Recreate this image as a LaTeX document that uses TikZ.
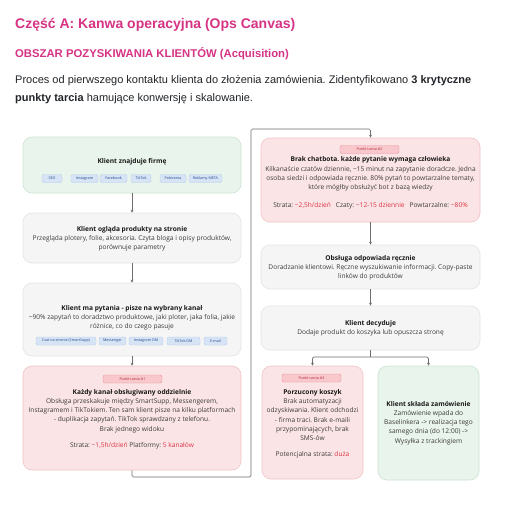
\documentclass[tikz,border=0pt]{standalone}
\usepackage{fontspec}
\setmainfont{Liberation Sans}
\newfontfamily\bx{Open Sans}
\usetikzlibrary{arrows.meta}
\frenchspacing
\definecolor{hdpink}{RGB}{214,51,132}
\definecolor{paratext}{RGB}{33,37,41}
\definecolor{gfill}{RGB}{233,244,236}
\definecolor{gline}{RGB}{203,228,210}
\definecolor{grfill}{RGB}{245,245,245}
\definecolor{grline}{RGB}{228,228,228}
\definecolor{rfill}{RGB}{251,228,229}
\definecolor{rline}{RGB}{242,196,199}
\definecolor{cfill}{RGB}{214,228,245}
\definecolor{cline}{RGB}{184,206,234}
\definecolor{ctext}{RGB}{40,75,140}
\definecolor{rcfill}{RGB}{248,200,205}
\definecolor{rcline}{RGB}{232,150,160}
\definecolor{rctext}{RGB}{176,42,55}
\definecolor{hot}{RGB}{220,53,69}
\definecolor{bodytext}{RGB}{60,60,60}
\definecolor{titletext}{RGB}{25,25,25}
\definecolor{connc}{RGB}{110,110,110}
\tikzset{
  box/.style={draw, rounded corners=9pt, inner sep=0pt, line width=0.6pt},
  greenbox/.style={box, fill=gfill, draw=gline},
  greybox/.style={box, fill=grfill, draw=grline},
  redbox/.style={box, fill=rfill, draw=rline},
  chip/.style={draw=cline, fill=cfill, rounded corners=2pt, inner sep=0pt, minimum height=8pt, line width=0.4pt, text=ctext, font=\bx\fontsize{3.7}{4}\selectfont},
  rchip/.style={draw=rcline, fill=rcfill, rounded corners=2pt, inner sep=0pt, minimum height=8pt, line width=0.4pt, text=rctext, font=\bx\fontsize{3.7}{4}\selectfont},
  txt/.style={font=\bx\fontsize{6.6}{9.2}\selectfont, align=center, inner sep=0pt, text=bodytext},
  line/.style={draw=connc, line width=0.7pt},
  conn/.style={line, -{Stealth[length=3pt,width=3pt]}},
}
\newcommand{\ttl}[1]{\textcolor{titletext}{\bfseries #1}}
\begin{document}
\begin{tikzpicture}[x=1pt,y=-1pt]
\useasboundingbox[fill=white] (0,0) rectangle (507,511);

% headings
\node[anchor=base west, inner sep=0pt, text=hdpink, font=\fontsize{14}{16}\selectfont\bfseries] (h1) at (15,29) {Część A: Kanwa operacyjna (Ops Canvas)};
\node[anchor=base west, inner sep=0pt, text=hdpink, font=\fontsize{11.3}{13}\selectfont\bfseries] (h2) at (15,57) {OBSZAR POZYSKIWANIA KLIENTÓW (Acquisition)};
\node[anchor=base west, inner sep=0pt, text=paratext, font=\fontsize{11}{13}\selectfont] (p1) at (15,83) {Proces od pierwszego kontaktu klienta do złożenia zamówienia. Zidentyfikowano \textbf{3 krytyczne}};
\node[anchor=base west, inner sep=0pt, text=paratext, font=\fontsize{11}{13}\selectfont] (p2) at (15,101) {\textbf{punkty tarcia} hamujące konwersję i skalowanie.};

% left column boxes
\node[greenbox, minimum width=218pt, minimum height=56pt] (L1) at (132,165) {};
\node[greybox, minimum width=218pt, minimum height=50pt] (L2) at (132,238) {};
\node[greybox, minimum width=218pt, minimum height=73pt] (L3) at (132,319.5) {};
\node[redbox, minimum width=218pt, minimum height=104pt] (L4) at (132,418) {};

% right column boxes
\node[redbox, minimum width=219pt, minimum height=84pt] (R1) at (370.5,180) {};
\node[greybox, minimum width=219pt, minimum height=44pt] (R2) at (370.5,267) {};
\node[greybox, minimum width=219pt, minimum height=44pt] (R3) at (370.5,328) {};
\node[redbox, minimum width=101pt, minimum height=113pt] (R4) at (312.5,422.5) {};
\node[greenbox, minimum width=101pt, minimum height=114pt] (R5) at (428.5,423) {};

% L1 content
\node[txt] (L1t) at (132,162) {\ttl{Klient znajduje firmę}};
\node[chip, minimum width=20pt] (c1) at (52,178.5) {SEO};
\node[chip, minimum width=27pt] (c2) at (84.5,178.5) {Instagram};
\node[chip, minimum width=27pt] (c3) at (113.5,178.5) {Facebook};
\node[chip, minimum width=20pt] (c4) at (141,178.5) {TikTok};
\node[chip, minimum width=26pt] (c5) at (173,178.5) {Polecenia};
\node[chip, minimum width=33pt] (c6) at (205.5,178.5) {Reklamy META};

% L2 content
\node[txt] (L2t) at (132,238.5) {\ttl{Klient ogląda produkty na stronie}\\Przegląda plotery, folie, akcesoria. Czyta bloga i opisy produktów,\\porównuje parametry};

% L3 content
\node[txt] (L3t) at (132,318) {\ttl{Klient ma pytania - pisze na wybrany kanał}\\\textasciitilde90\% zapytań to doradztwo produktowe, jaki ploter, jaka folia, jakie\\różnice, co do czego pasuje};
\node[chip, minimum width=60pt] (d1) at (66,341) {Czat na stronie (SmartSupp)};
\node[chip, minimum width=27pt] (d2) at (112.5,341) {Messenger};
\node[chip, minimum width=34pt] (d3) at (146,341) {Instagram DM};
\node[chip, minimum width=33pt] (d4) at (183.5,341) {TikTok DM};
\node[chip, minimum width=23pt] (d5) at (215.5,341) {E-mail};

% L4 content
\node[rchip, minimum width=59pt] (k1chip) at (132.5,379) {Punkt tarcia \#1};
\node[txt] (L4t) at (132,411) {\ttl{Każdy kanał obsługiwany oddzielnie}\\Obsługa przeskakuje między SmartSupp, Messengerem,\\Instagramem i TikTokiem. Ten sam klient pisze na kilku platformach\\- duplikacja zapytań. TikTok sprawdzany z telefonu.\\Brak jednego widoku};
\node[txt] (L4s) at (132,446) {Strata: \textcolor{hot}{\textasciitilde1,5h/dzień} Platformy: \textcolor{hot}{5 kanałów}};

% R1 content
\node[rchip, minimum width=59pt] (k2chip) at (369.5,149.5) {Punkt tarcia \#2};
\node[txt] (R1t) at (370.5,174) {\ttl{Brak chatbota. każde pytanie wymaga człowieka}\\Kilkanaście czatów dziennie, \textasciitilde15 minut na zapytanie doradcze. Jedna\\osoba siedzi i odpowiada ręcznie. 80\% pytań to powtarzalne tematy,\\które mógłby obsłużyć bot z bazą wiedzy};
\node[txt] (R1s) at (370.5,206) {Strata: \textcolor{hot}{\textasciitilde2,5h/dzień}\hspace{5pt}Czaty: \textcolor{hot}{\textasciitilde12-15 dziennie}\hspace{5pt}Powtarzalne: \textcolor{hot}{\textasciitilde80\%}};

% R2, R3 content
\node[txt] (R2t) at (370.5,267.5) {\ttl{Obsługa odpowiada ręcznie}\\Doradzanie klientowi. Ręczne wyszukiwanie informacji. Copy-paste\\linków do produktów};
\node[txt] (R3t) at (370.5,328) {\ttl{Klient decyduje}\\Dodaje produkt do koszyka lub opuszcza stronę};

% R4 content
\node[rchip, minimum width=59pt] (k3chip) at (311.5,378) {Punkt tarcia \#3};
\node[txt] (R4t) at (312.5,415) {\ttl{Porzucony koszyk}\\Brak automatyzacji\\odzyskiwania. Klient odchodzi\\- firma traci. Brak e-maili\\przypominających, brak\\SMS-ów};
\node[txt] (R4s) at (312.5,455) {Potencjalna strata: \textcolor{hot}{duża}};

% R5 content
\node[txt] (R5t) at (428.5,423) {\ttl{Klient składa zamówienie}\\Zamówienie wpada do\\Baselinkera -> realizacja tego\\samego dnia (do 12:00) ->\\Wysyłka z trackingiem};

% connectors
\draw[conn] (L1.south) -- (L2.north);
\draw[conn] (L2.south) -- (L3.north);
\draw[conn] (L3.south) -- (L4.north);
\coordinate (q1) at (251,477);
\coordinate (q2) at (251,129);
\draw[conn, rounded corners=1.5pt] (L4.south) |- (q1) -- (q2) -| (R1.north);
\draw[conn] (R1.south) -- (R2.north);
\draw[conn] (R2.south) -- (R3.north);
\coordinate (sp) at (370.5,357);
\draw[line] (R3.south) -- (sp);
\draw[conn, rounded corners=2pt] (sp) -| (R4.north);
\draw[conn, rounded corners=2pt] (sp) -| (R5.north);
\end{tikzpicture}
\end{document}
